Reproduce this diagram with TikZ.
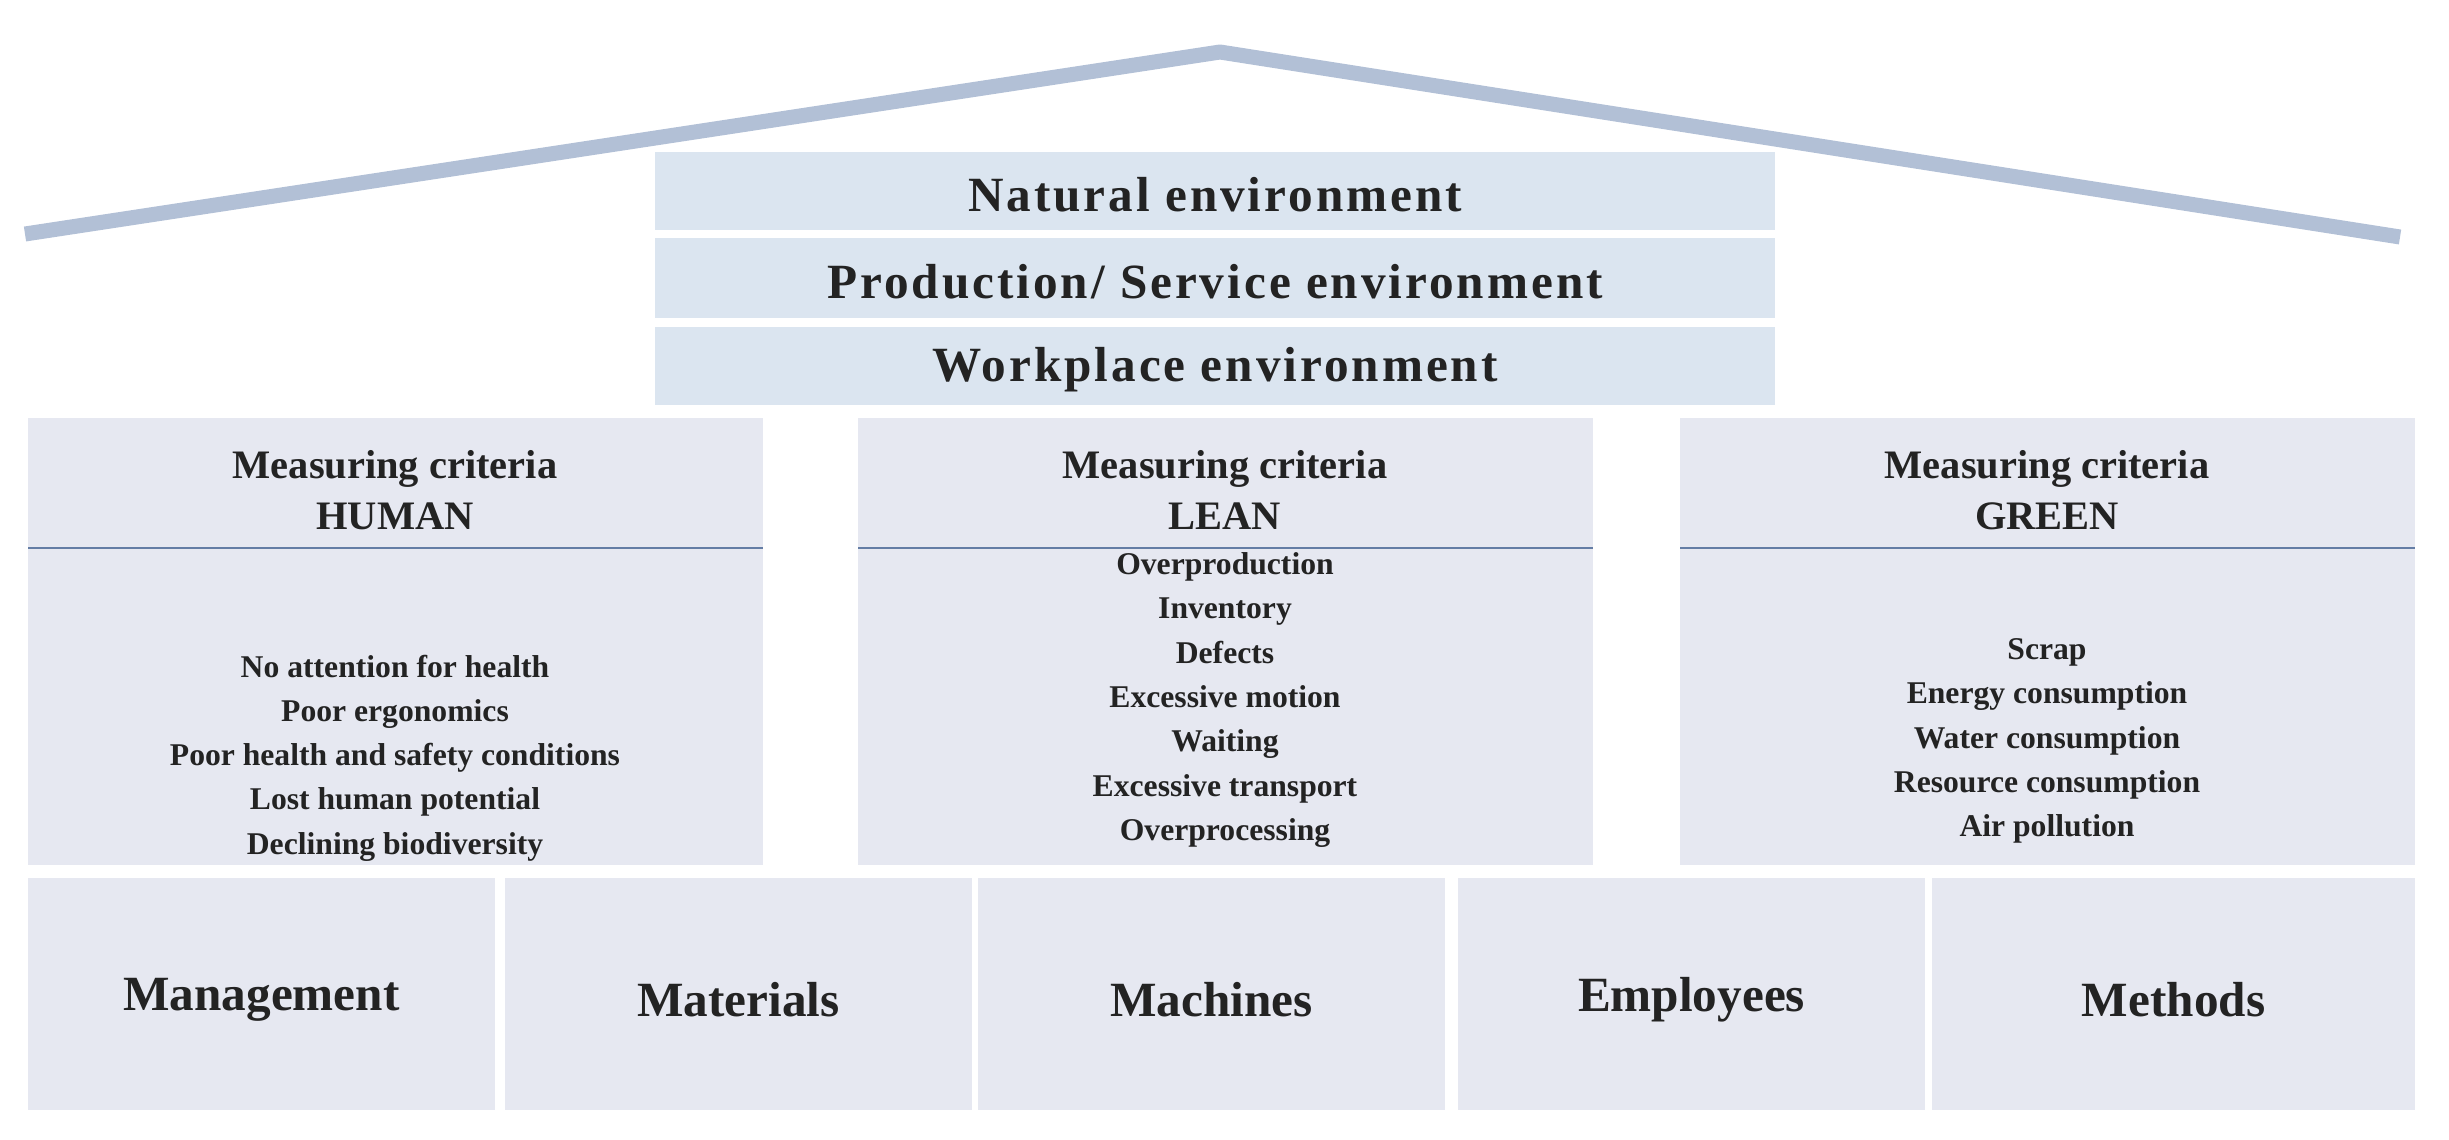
\documentclass[tikz,border=0pt]{standalone}
\usepackage{fontspec}
\setmainfont{Liberation Serif}
\definecolor{roof}{RGB}{178,192,214}
\definecolor{envfill}{RGB}{219,229,240}
\definecolor{boxfill}{RGB}{230,232,241}
\definecolor{sep}{RGB}{100,125,165}
\definecolor{txt}{RGB}{35,35,35}
\begin{document}
\begin{tikzpicture}[x=0.01cm,y=-0.01cm,
  env/.style={fill=envfill,draw=none},
  crit/.style={fill=boxfill,draw=none},
  envtext/.style={font=\bfseries\fontsize{14}{16}\selectfont\addfontfeature{LetterSpace=6},text=txt},
  ttl/.style={font=\bfseries\fontsize{11.5}{14.5}\selectfont,text=txt,align=center},
  items/.style={font=\bfseries\fontsize{9}{12.6}\selectfont,text=txt,align=center},
  base/.style={font=\bfseries\fontsize{14}{16}\selectfont,text=txt}]
\useasboundingbox (0,0) rectangle (2449,1139);
\coordinate (r1) at (25,234); \coordinate (r2) at (1220,52); \coordinate (r3) at (2400,237);
\draw[roof,line width=0.15cm,line join=round] (r1) -- (r2) -- (r3);
\fill[env] (655,152) rectangle (1775,230);
\fill[env] (655,238) rectangle (1775,318);
\fill[env] (655,327) rectangle (1775,405);
\node[envtext] (ne) at (1215,195) {Natural environment};
\node[envtext] (pe) at (1215,282) {Production/ Service environment};
\node[envtext] (we) at (1215,370) {Workplace environment};
\foreach \x/\n/\t in {28/h/HUMAN,858/l/LEAN,1680/g/GREEN}{
  \fill[crit] (\x,418) rectangle (\x+735,865);
  \draw[sep,line width=0.6pt] (\x,548) -- (\x+735,548);
  \node[ttl] (t\n) at (\x+367,490) {Measuring criteria\\\t};
}
\node[items] (ih) at (395,758) {No attention for health\\Poor ergonomics\\Poor health and safety conditions\\Lost human potential\\Declining biodiversity};
\node[items] (il) at (1225,700) {Overproduction\\Inventory\\Defects\\Excessive motion\\Waiting\\Excessive transport\\Overprocessing};
\node[items] (ig) at (2047,741) {Scrap\\Energy consumption\\Water consumption\\Resource consumption\\Air pollution};
\foreach \a/\b/\n/\t in {28/495/b1/Management,505/972/b2/Materials,978/1445/b3/Machines,1458/1925/b4/Employees,1932/2415/b5/Methods}{
  \fill[crit] (\a,878) rectangle (\b,1110);
  \node[base] (\n) at ({(\a+\b)/2},1000) {\t};
}
\end{tikzpicture}
\end{document}
